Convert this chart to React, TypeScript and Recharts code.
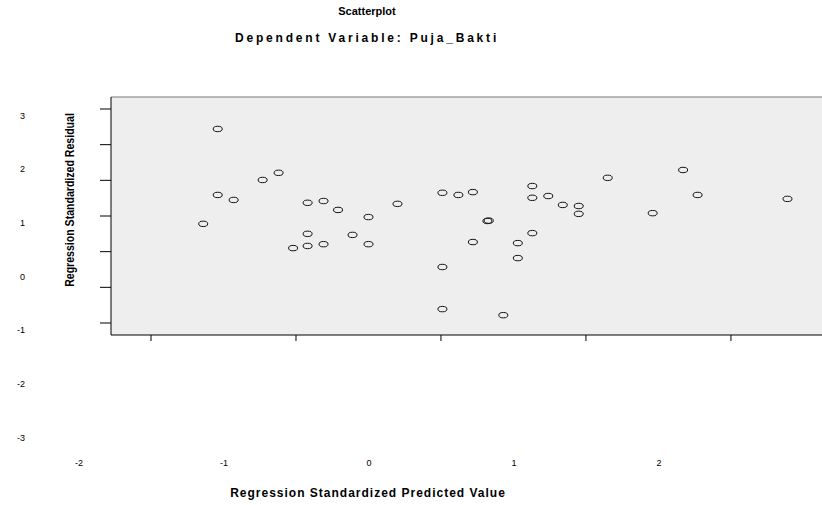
import { CartesianGrid, Scatter, ScatterChart, XAxis, YAxis } from "recharts"

document.body.style.margin = "0"

// standardized predicted value (x) and standardized residual (y)
const predicted = [
  -1.54, -1.23, -1.12, -1.54, -1.43, -1.64, -0.92, -0.81, -0.71, -0.5,
  -0.3, -0.92, -1.02, -0.92, -0.81, -0.61, -0.5, 0.01, 0.12, 0.22,
  0.63, 0.63, 0.74, 0.84, 0.95, 0.95, 1.15, 0.32, 0.33, 0.22,
  0.53, 0.63, 0.53, 0.01, 0.01, 0.43, 1.67, 1.77, 1.46, 2.39,
]
const residual = [
  2.44, 1.01, 1.21, 0.59, 0.45, -0.22, 0.37, 0.42, 0.17, -0.03,
  0.34, -0.5, -0.9, -0.84, -0.79, -0.53, -0.79, 0.65, 0.59, 0.67,
  0.84, 0.51, 0.56, 0.31, 0.28, 0.06, 1.07, -0.14, -0.13, -0.73,
  -0.76, -0.48, -1.18, -1.43, -2.61, -2.78, 1.29, 0.59, 0.08, 0.48,
]

// tick marks on the frame
const xTicks = [-2, -1, 0, 1, 2]
const yTicks = [-3, -2, -1, 0, 1, 2, 3]
// printed tick labels (SPSS prints them offset from the marks)
const yLabels = [3, 2, 1, 0, -1, -2, -3]

const points = predicted.map((x, i) => ({ x, y: residual[i] }))

const font = "'Liberation Sans', Arial, sans-serif"

const Ring = (props: any) => {
  const { cx, cy } = props
  return <ellipse cx={cx} cy={cy} rx={4.5} ry={2.7} fill="none" stroke="#111" strokeWidth={1} />
}

// x tick: short mark under the frame, label printed half a step to the left and far below
const XTick = (p: any) => (
  <g>
    <line x1={p.x} y1={p.y} x2={p.x} y2={p.y + 6} stroke="#000" />
    <text x={p.x - 72} y={p.y + 131} textAnchor="middle" fontSize={9} fontFamily={font} fill="#000">
      {p.payload.value}
    </text>
  </g>
)
const YMark = (p: any) => <line x1={p.x - 11} y1={p.y} x2={p.x} y2={p.y} stroke="#000" />
const YLabel = (p: any) => (
  <text x={p.x} y={p.y} dy={3} textAnchor="end" fontSize={9} fontFamily={font} fill="#000">
    {p.payload.value}
  </text>
)

export default function App() {
  return (
    <div style={{ position: "relative", width: 822, height: 505, background: "#fff", fontFamily: font }}>
      <div style={{ position: "absolute", left: 0, width: 734, top: 5, textAlign: "center", fontSize: 11, fontWeight: "bold" }}>
        Scatterplot
      </div>
      <div
        style={{
          position: "absolute",
          left: 0,
          width: 734,
          top: 31,
          textAlign: "center",
          fontSize: 12,
          fontWeight: "bold",
          letterSpacing: 2.8,
        }}
      >
        Dependent Variable: Puja_Bakti
      </div>
      <div
        style={{
          position: "absolute",
          left: 70,
          top: 200,
          transform: "translate(-50%, -50%) rotate(-90deg) scaleX(0.88)",
          whiteSpace: "nowrap",
          fontSize: 12,
          fontWeight: "bold",
        }}
      >
        Regression Standardized Residual
      </div>
      <div
        style={{
          position: "absolute",
          left: 0,
          width: 736,
          top: 486,
          textAlign: "center",
          fontSize: 12,
          fontWeight: "bold",
          letterSpacing: 1,
        }}
      >
        Regression Standardized Predicted Value
      </div>
      <ScatterChart width={822} height={505} margin={{ top: 96, right: 0, bottom: 0, left: 0 }}>
        <CartesianGrid xAxisId="a" yAxisId="a" fill="#eeeeee" horizontal={false} vertical={false} />
        <XAxis
          xAxisId="a"
          type="number"
          dataKey="x"
          domain={[-2.276, 2.628]}
          ticks={xTicks}
          interval={0}
          allowDataOverflow
          height={170}
          tickSize={0}
          tickMargin={0}
          tickLine={false}
          tick={<XTick />}
          axisLine={{ stroke: "#000" }}
        />
        <XAxis
          xAxisId="top"
          orientation="top"
          type="number"
          domain={[0, 1]}
          height={1}
          tick={false}
          tickLine={false}
          axisLine={{ stroke: "#777" }}
        />
        <YAxis
          yAxisId="b"
          type="number"
          domain={[-1.086, 3.346]}
          ticks={yLabels}
          interval={0}
          allowDataOverflow
          width={100}
          axisLine={false}
          tickLine={false}
          tickSize={0}
          tickMargin={75}
          tick={<YLabel />}
        />
        <YAxis
          yAxisId="a"
          type="number"
          dataKey="y"
          domain={[-3.336, 3.336]}
          ticks={yTicks}
          interval={0}
          allowDataOverflow
          width={11}
          tickSize={0}
          tickMargin={0}
          tickLine={false}
          tick={<YMark />}
          axisLine={{ stroke: "#000" }}
        />
        <Scatter xAxisId="a" yAxisId="a" data={points} shape={<Ring />} isAnimationActive={false} />
      </ScatterChart>
    </div>
  )
}
